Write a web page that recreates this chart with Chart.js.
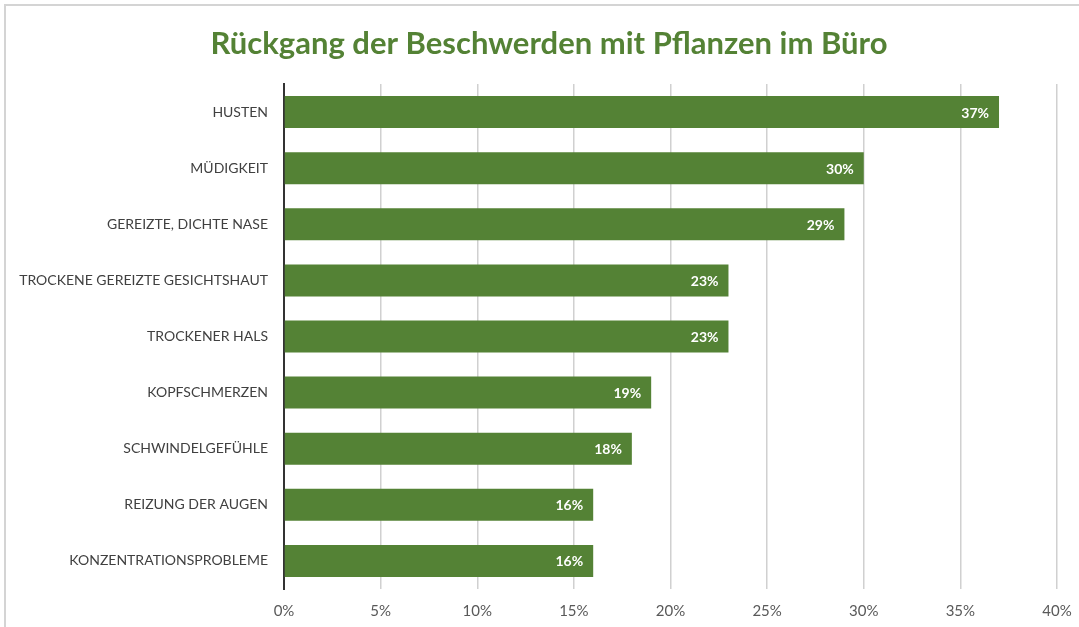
<!DOCTYPE html>
<html>
<head>
<meta charset="utf-8">
<script src="https://cdn.jsdelivr.net/npm/chart.js@4/dist/chart.umd.min.js"></script>
<style>
  html, body { margin: 0; padding: 0; background: #fff; }
  #wrap { position: relative; width: 1079px; height: 627px; }
  #frame { position: absolute; left: 4px; top: 4px; right: 0; bottom: 0;
           border-top: 2px solid #d4d4d4; border-left: 2px solid #d4d4d4; pointer-events: none; }
  canvas { position: absolute; left: 0; top: 0; }
</style>
</head>
<body>
<div id="wrap">
  <canvas id="chart" width="1079" height="627"></canvas>
  <div id="frame"></div>
</div>
<script>
const categories = [
  "HUSTEN",
  "MÜDIGKEIT",
  "GEREIZTE, DICHTE NASE",
  "TROCKENE GEREIZTE GESICHTSHAUT",
  "TROCKENER HALS",
  "KOPFSCHMERZEN",
  "SCHWINDELGEFÜHLE",
  "REIZUNG DER AUGEN",
  "KONZENTRATIONSPROBLEME",
];
const values = [37, 30, 29, 23, 23, 19, 18, 16, 16];
const xTicks = [0, 5, 10, 15, 20, 25, 30, 35, 40];
const titleText = "Rückgang der Beschwerden mit Pflanzen im Büro";

const green = "#548235";
const fontFamily = "Lato, 'Open Sans', sans-serif";

// title (centred a bit right of the canvas, like the original) and value labels
const extras = {
  id: "extras",
  afterDatasetsDraw(chart) {
    const ctx = chart.ctx;
    const meta = chart.getDatasetMeta(0);
    ctx.save();
    ctx.fillStyle = "#ffffff";
    ctx.font = "bold 14px " + fontFamily;
    ctx.textAlign = "right";
    ctx.textBaseline = "middle";
    meta.data.forEach((bar, i) => {
      ctx.fillText(values[i] + "%", bar.x - 10, bar.y + 1);
    });

    ctx.fillStyle = green;
    ctx.font = "bold 31px " + fontFamily;
    ctx.textAlign = "center";
    ctx.fillText(titleText, 549, 44);
    ctx.restore();
  },
};

new Chart(document.getElementById("chart"), {
  type: "bar",
  data: {
    labels: categories,
    datasets: [
      {
        data: values,
        backgroundColor: green,
        borderWidth: 0,
        barPercentage: 0.57,
        categoryPercentage: 1,
      },
    ],
  },
  options: {
    indexAxis: "y",
    responsive: false,
    animation: false,
    layout: { padding: { left: 0, right: 22, top: 84, bottom: 0 } },
    scales: {
      x: {
        min: 0,
        max: 40,
        afterBuildTicks: (scale) => {
          scale.ticks = xTicks.map((v) => ({ value: v }));
        },
        afterFit: (scale) => {
          scale.height = 38;
          scale.paddingLeft = 0;
          scale.paddingRight = 0;
        },
        ticks: {
          padding: 13,
          color: "#595959",
          font: { family: fontFamily, size: 15 },
          callback: (v) => v + "%",
        },
        grid: { color: "#d0d0d0", lineWidth: 1.5, drawTicks: false },
        border: { display: false },
      },
      y: {
        afterFit: (scale) => {
          scale.width = 284;
          scale.paddingTop = 0;
          scale.paddingBottom = 0;
        },
        ticks: {
          padding: 16,
          color: "#404040",
          font: { family: fontFamily, size: 14 },
        },
        grid: { display: false, drawTicks: false },
        border: { display: true, color: "#333333", width: 2 },
      },
    },
    plugins: {
      legend: { display: false },
      tooltip: { enabled: false },
      title: { display: false },
    },
  },
  plugins: [extras],
});
</script>
</body>
</html>
